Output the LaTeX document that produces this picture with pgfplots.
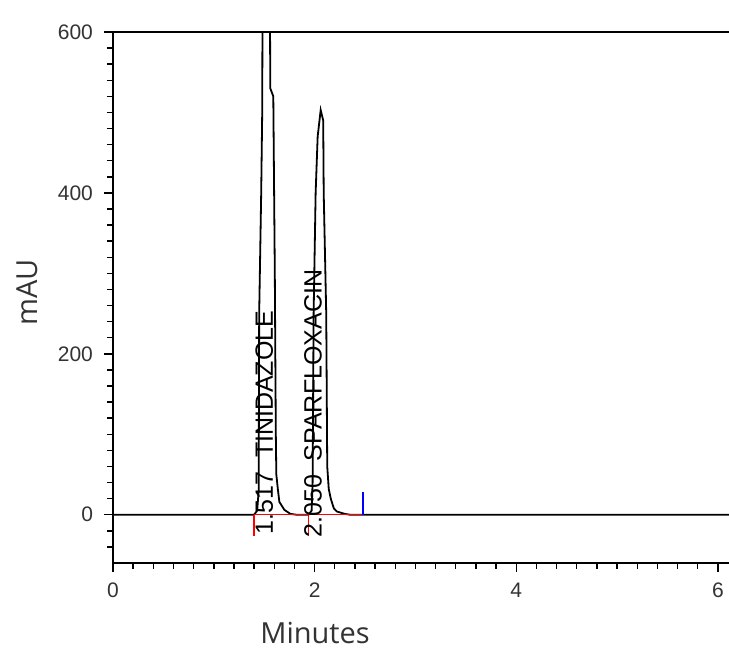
\documentclass[border=0pt]{standalone}
\usepackage{fontspec}
\setmainfont{Liberation Sans}
\newfontfamily\labelfont{Open Sans}
\usepackage{pgfplots}
\pgfplotsset{compat=1.18}

% chromatogram trace (minutes, mAU)
\pgfplotstableread{
t     y
0.00  0
1.40  0
1.43  5
1.445 30
1.45  250
1.47  400
1.48  500
1.485 700
1.555 700
1.56  530
1.59  520
1.605 300
1.615 100
1.62  50
1.635 32
1.65  16
1.70  6
1.76  1
1.82  0
1.94  0
1.97  5
1.98  40
1.99  250
2.01  400
2.03  470
2.06  503
2.085 490
2.09  400
2.115 250
2.125 60
2.14  32
2.16  20
2.19  8
2.22  4
2.30  1
2.35  0
6.11  0
}\trace

\begin{document}
\begin{tikzpicture}
\begin{axis}[
    name=ax,
    scale only axis,
    width=308pt, height=265.5pt,
    xmin=0, xmax=6.11,
    ymin=-60, ymax=600,
    axis x line*=bottom,
    axis y line*=left,
    axis line style={-, line width=0.9pt},
    xtick={0,2,4,6},
    ytick={0,200,400,600},
    minor xtick={0.2,0.4,...,6.1},
    minor ytick={-40,-20,20,40,...,580},
    tick align=outside,
    major tick length=4.5pt,
    minor tick length=3pt,
    every tick/.style={black, line width=0.7pt},
    /pgf/number format/assume math mode=true,
    tick label style={font=\fontsize{10.5}{12}\selectfont, text=black!80},
    xticklabel style={yshift=-2pt},
    yticklabel style={xshift=-2pt},
    xlabel={Minutes},
    ylabel={mAU},
    xlabel style={font=\labelfont\fontsize{14.5}{16}\selectfont, text=black!80,
        at={(axis description cs:0.328,-0.132)}, anchor=center},
    ylabel style={font=\labelfont\fontsize{14.5}{16}\selectfont, text=black!80,
        at={(axis description cs:-0.14,0.51)}, anchor=center, rotate=0},
    clip=true,
]
\draw[line width=0.9pt] (rel axis cs:0,1) -- (rel axis cs:1,1);

\addplot[black, line width=0.9pt, mark=none] table[x=t, y=y] {\trace};

% integration baseline and markers
\addplot[red, line width=0.7pt, mark=none] coordinates {(1.40,0) (2.48,0)};
\addplot[red, line width=0.7pt, mark=none] coordinates {(1.40,0) (1.40,-27)};
\addplot[red, line width=0.7pt, mark=none] coordinates {(1.94,0) (1.94,-27)};
\addplot[blue, line width=0.7pt, mark=none] coordinates {(2.48,0) (2.48,28)};

\node[rotate=90, anchor=west, inner sep=0pt, font=\fontsize{12.5}{14}\selectfont]
    at (axis cs:1.50,-25) {1.517 \ TINIDAZOLE};
\node[rotate=90, anchor=west, inner sep=0pt, font=\fontsize{12.5}{14}\selectfont]
    at (axis cs:1.985,-29) {2.050 \ SPARFLOXACIN};
\end{axis}
\pgfresetboundingbox
\useasboundingbox ([shift={(-56.5pt,-43pt)}]ax.south west) rectangle ([shift={(0pt,16pt)}]ax.north east);
\end{tikzpicture}
\end{document}
